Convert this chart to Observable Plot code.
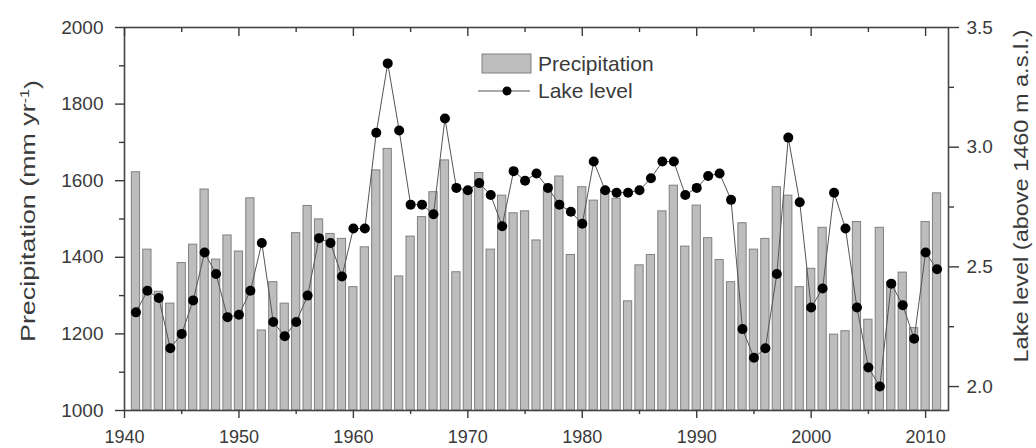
<!DOCTYPE html>
<html><head><meta charset="utf-8">
<script src="https://cdn.jsdelivr.net/npm/d3@7"></script>
<script src="https://cdn.jsdelivr.net/npm/@observablehq/plot@0.6"></script>
<style>body{margin:0;background:#fff;}</style>
</head><body><div id="chart"></div>
<script>
const years = [1941,1942,1943,1944,1945,1946,1947,1948,1949,1950,
  1951,1952,1953,1954,1955,1956,1957,1958,1959,1960,
  1961,1962,1963,1964,1965,1966,1967,1968,1969,1970,
  1971,1972,1973,1974,1975,1976,1977,1978,1979,1980,
  1981,1982,1983,1984,1985,1986,1987,1988,1989,1990,
  1991,1992,1993,1994,1995,1996,1997,1998,1999,2000,
  2001,2002,2003,2004,2005,2006,2007,2008,2009,2010,2011];
const precipitation = [1622,1420,1310,1279,1385,1433,1577,1394,1457,1415,
  1554,1209,1335,1279,1463,1534,1499,1461,1448,1322,
  1426,1627,1683,1350,1454,1505,1570,1653,1361,1575,
  1620,1420,1561,1515,1520,1444,1575,1611,1406,1583,
  1548,1574,1553,1285,1379,1406,1520,1587,1428,1535,
  1450,1393,1335,1489,1420,1448,1583,1561,1322,1370,
  1477,1198,1207,1492,1237,1477,1335,1360,1215,1492,1567];
const lakeLevel = [2.31,2.40,2.37,2.16,2.22,2.36,2.56,2.47,2.29,2.30,
  2.40,2.60,2.27,2.21,2.27,2.38,2.62,2.60,2.46,2.66,
  2.66,3.06,3.35,3.07,2.76,2.76,2.72,3.12,2.83,2.82,
  2.85,2.80,2.67,2.90,2.86,2.89,2.83,2.76,2.73,2.68,
  2.94,2.82,2.81,2.81,2.82,2.87,2.94,2.94,2.80,2.83,
  2.88,2.89,2.78,2.24,2.12,2.16,2.47,3.04,2.77,2.33,
  2.41,2.81,2.66,2.33,2.08,2.00,2.43,2.34,2.20,2.56,2.49];
const xTicks = [1940,1950,1960,1970,1980,1990,2000,2010];
const xMinorTicks = [1945,1955,1965,1975,1985,1995,2005];
const leftTicks = [1000,1200,1400,1600,1800,2000];
const leftMinorTicks = [1100,1300,1500,1700,1900];
const rightTicks = [2.0,2.5,3.0,3.5];
const rightMinorTicks = [2.25,2.75,3.25];

const data = years.map((year, i) => ({year, p: precipitation[i], lake: lakeLevel[i]}));
const lakeToLeft = d3.scaleLinear().domain([1.9, 3.5]).range([1000, 2000]);
const ink = "#3a3a3a";

const chart = Plot.plot({
  width: 1036, height: 448,
  marginLeft: 124, marginRight: 88, marginTop: 27, marginBottom: 38,
  style: {fontFamily: "'Liberation Sans', Arial, sans-serif", fontSize: "18px", color: ink, background: "#fff"},
  x: {domain: [1940, 2012]},
  y: {domain: [1000, 2000]},
  marks: [
    Plot.rect(data, {x1: d => d.year - 0.36, x2: d => d.year + 0.36, y1: 1000, y2: "p", fill: "#bdbdbd", stroke: "#808080", strokeWidth: 1}),
    Plot.line(data, {x: "year", y: d => lakeToLeft(d.lake), curve: "linear", stroke: "#555", strokeWidth: 1}),
    Plot.dot(data, {x: "year", y: d => lakeToLeft(d.lake), r: 5, fill: "#000", stroke: "none"}),
    Plot.frame({stroke: "#444", strokeWidth: 1.6}),
    Plot.axisX({ticks: xTicks, tickSize: 8, tickPadding: 12, tickFormat: d => String(d), label: null, fontSize: 18, strokeWidth: 1.4}),
    Plot.axisX({ticks: xMinorTicks, tickSize: 4, fill: "none", label: null, strokeWidth: 1.4}),
    Plot.axisX({anchor: "top", ticks: xTicks, tickSize: -8, fill: "none", label: null, strokeWidth: 1.4}),
    Plot.axisX({anchor: "top", ticks: xMinorTicks, tickSize: -4, fill: "none", label: null, strokeWidth: 1.4}),
    Plot.axisY({ticks: leftTicks, tickSize: 9, tickPadding: 12, tickFormat: d => String(d), label: null, fontSize: 19, strokeWidth: 1.4}),
    Plot.axisY({ticks: leftMinorTicks, tickSize: 5, fill: "none", label: null, strokeWidth: 1.4}),
    Plot.axisY({anchor: "right", ticks: rightTicks.map(v => lakeToLeft(v)), tickFormat: d => lakeToLeft.invert(d).toFixed(1), tickSize: 10, tickPadding: 8, label: null, fontSize: 19, strokeWidth: 1.4}),
    Plot.axisY({anchor: "right", ticks: rightMinorTicks.map(v => lakeToLeft(v)), tickSize: 5, fill: "none", label: null, strokeWidth: 1.4})
  ]
});
document.getElementById("chart").appendChild(chart);

const svg = d3.select(chart);
const font = "'Liberation Sans', Arial, sans-serif";
// Left axis title
const lt = svg.append("text")
  .attr("transform", "translate(35,211) rotate(-90)")
  .attr("text-anchor", "middle").attr("fill", ink)
  .style("font-family", font).style("font-size", "20px")
  .attr("textLength", 262).attr("lengthAdjust", "spacingAndGlyphs");
lt.append("tspan").text("Precipitation (mm yr");
lt.append("tspan").attr("dy", "-0.5em").style("font-size", "12px").text("-1");
lt.append("tspan").attr("dy", "0.5em").text(")");
// Right axis title
svg.append("text")
  .attr("transform", "translate(1028,196) rotate(-90)")
  .attr("text-anchor", "middle").attr("fill", ink)
  .style("font-family", font).style("font-size", "21px")
  .attr("textLength", 333).attr("lengthAdjust", "spacingAndGlyphs")
  .text("Lake level (above 1460 m a.s.l.)");
// Legend
const lg = svg.append("g").attr("text-anchor", "start");
lg.append("rect").attr("x", 482).attr("y", 54).attr("width", 49).attr("height", 19)
  .attr("fill", "#bdbdbd").attr("stroke", "#808080");
lg.append("text").attr("x", 538).attr("y", 64).attr("dy", "0.35em").attr("fill", ink)
  .attr("text-anchor", "start")
  .style("font-family", font).style("font-size", "21px").text("Precipitation");
lg.append("line").attr("x1", 478).attr("x2", 530).attr("y1", 91).attr("y2", 91)
  .attr("stroke", "#555").attr("stroke-width", 1);
lg.append("circle").attr("cx", 507).attr("cy", 91).attr("r", 4.5).attr("fill", "#000");
lg.append("text").attr("x", 538).attr("y", 91).attr("dy", "0.35em").attr("fill", ink)
  .attr("text-anchor", "start")
  .style("font-family", font).style("font-size", "21px").text("Lake level");
</script>
</body></html>
